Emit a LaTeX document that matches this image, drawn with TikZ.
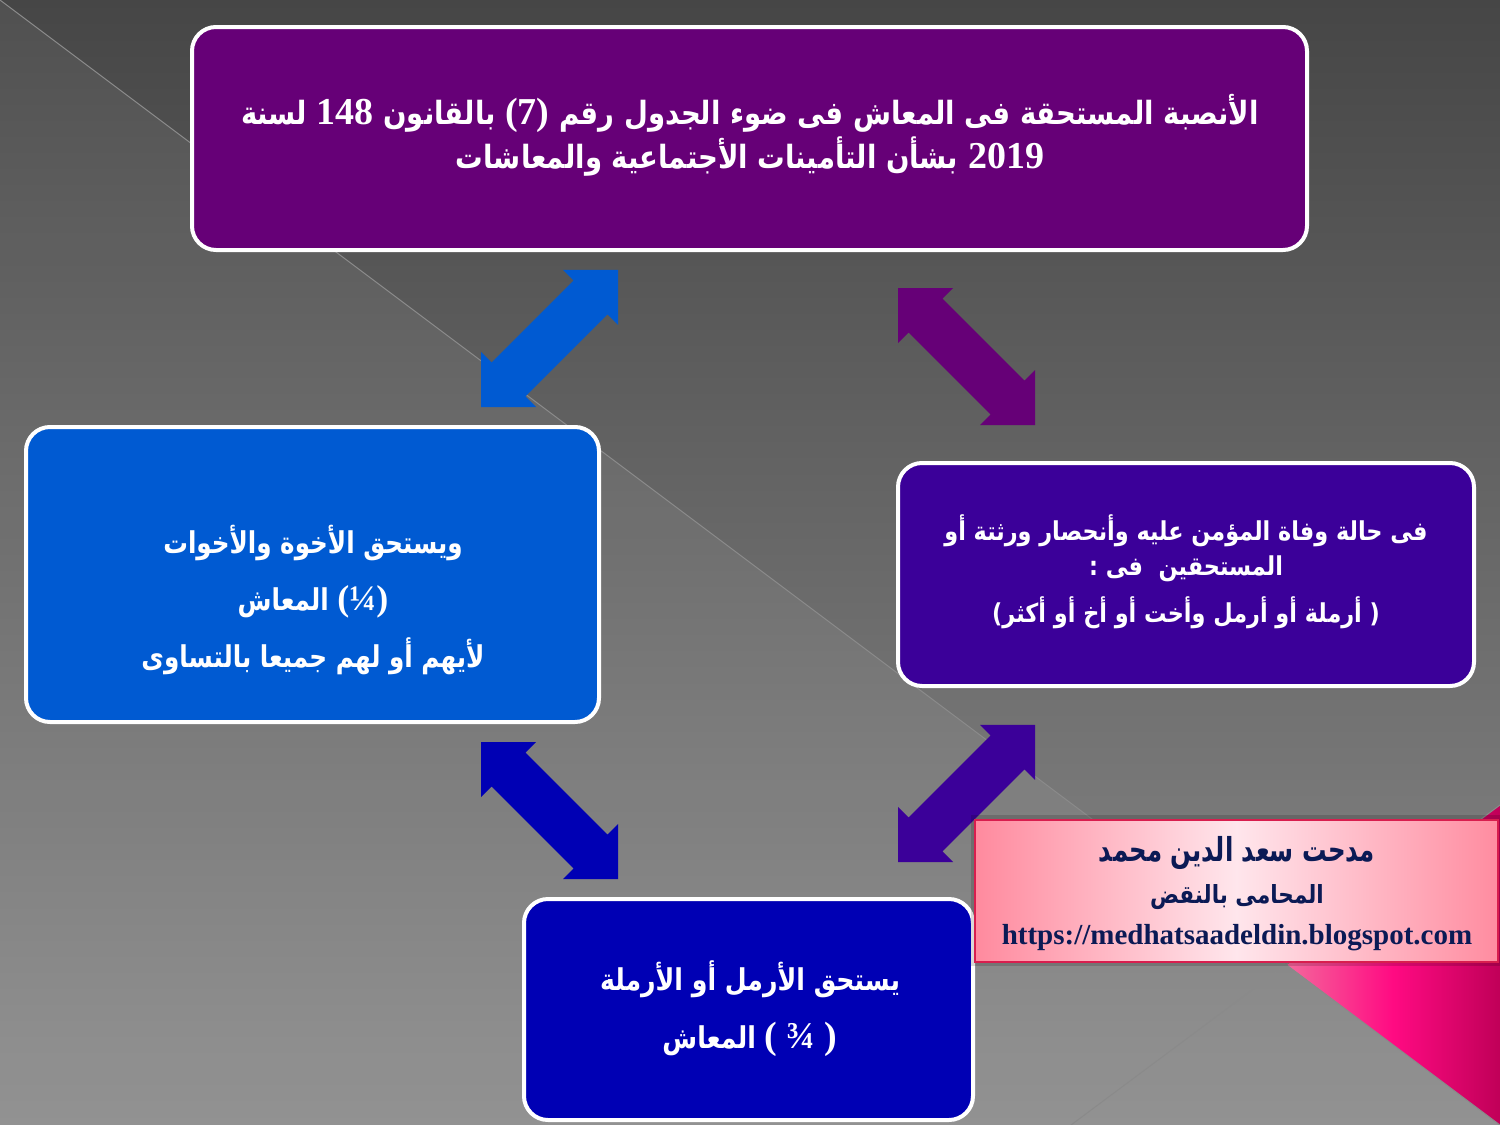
\documentclass[tikz,border=0pt]{standalone}
\usepackage{fontspec}
\setmainfont{Liberation Serif}
\newfontfamily\arabicfont[Script=Arabic]{DejaVu Sans}
\newfontfamily\numfont{Liberation Serif}
\TeXXeTstate=1
\definecolor{bgtop}{HTML}{464646}
\definecolor{bgbot}{HTML}{8C8C8C}
\definecolor{toppurple}{HTML}{660077}
\definecolor{leftblue}{HTML}{005AD2}
\definecolor{rightindigo}{HTML}{3B0099}
\definecolor{botblue}{HTML}{0000B4}
\definecolor{pinkL}{HTML}{F4689C}
\definecolor{pinkM}{HTML}{FF0A82}
\definecolor{pinkR}{HTML}{C00058}
\definecolor{signL}{HTML}{FF8A9E}
\definecolor{signM}{HTML}{FFE6EC}
\definecolor{signR}{HTML}{FF8CA0}
\definecolor{signborder}{HTML}{D81E4E}
\definecolor{navy}{HTML}{0B1A55}
\definecolor{bgline}{HTML}{8A8A8A}
\newcommand\bignum[2]{{\numfont\fontsize{#1}{#1}\selectfont #2}}
\tikzset{
  roundbox/.style={draw=white, line width=2pt, rounded corners=12pt, inner sep=0pt},
  boxtext/.style={text=white, align=center, inner sep=0pt},
  signtext/.style={text=navy, align=center, inner sep=0pt},
  bglinestyle/.style={draw=bgline, line width=0.5pt},
  dblarrow/.pic={\path[pic actions] (0,0) -- (39,-39) -- (39,-24) -- (155,-24) -- (155,-39)
      -- (194,0) -- (155,39) -- (155,24) -- (39,24) -- (39,39) -- cycle;}
}
\begin{document}
\begin{tikzpicture}[x=0.5pt,y=-0.5pt]
\useasboundingbox (0,0) rectangle (1500,1125);
% background
\shade[top color=bgtop, bottom color=bgbot] (0,0) rectangle (1500,1125);
\fill[white, opacity=0.06] (0,0) -- (1500,1125) -- (0,1125) -- cycle;
\shade[left color=pinkL, right color=pinkR, middle color=pinkM] (1287,965) -- (1500,805) -- (1500,1125) -- cycle;
\path[bglinestyle] (0,0) -- (1500,1125);
\path[bglinestyle] (1500,805) -- (1071,1125);
% boxes
\node[roundbox, fill=toppurple, minimum width=557.5pt, minimum height=111.5pt] (top) at (749.5,138.5) {};
\node[roundbox, fill=leftblue, minimum width=286.5pt, minimum height=147.5pt] (left) at (312.5,574.5) {};
\node[roundbox, fill=rightindigo, minimum width=288pt, minimum height=111.5pt] (right) at (1186,574.5) {};
\node[roundbox, fill=botblue, minimum width=224.5pt, minimum height=110.5pt] (bottom) at (748.5,1009.5) {};
% arrows
\coordinate (a1) at (481,407);
\coordinate (a2) at (898,288);
\coordinate (a3) at (481,742);
\coordinate (a4) at (898,862);
\pic[fill=leftblue, rotate=45] (arr1) at (a1) {dblarrow};
\pic[fill=toppurple, rotate=-45] (arr2) at (a2) {dblarrow};
\pic[fill=botblue, rotate=-45] (arr3) at (a3) {dblarrow};
\pic[fill=rightindigo, rotate=45] (arr4) at (a4) {dblarrow};
% texts
\node[boxtext, font=\arabicfont\addfontfeature{FakeStretch=0.86}\bfseries\fontsize{16}{22}\selectfont] (ttop) at (750,135)
 {\beginR الأنصبة المستحقة فى المعاش فى ضوء الجدول رقم \beginL\bignum{19}{(7)}\endL{} بالقانون \beginL\bignum{19}{148}\endL{} لسنة\endR\\
  \beginR\beginL\bignum{19}{2019}\endL{} بشأن التأمينات الأجتماعية والمعاشات\endR};
\node[boxtext, font=\arabicfont\addfontfeature{FakeStretch=0.82}\bfseries\fontsize{15}{28.5}\selectfont] (tleft) at (313,600)
 {\beginR ويستحق الأخوة والأخوات\endR\\
  \beginR\beginL\bignum{18}{(¼)}\endL{} المعاش\endR\\
  \beginR لأيهم أو لهم جميعا بالتساوى\endR};
\node[boxtext, font=\arabicfont\addfontfeature{FakeStretch=0.86}\bfseries\fontsize{13}{17.5}\selectfont] (tright) at (1186,572)
 {\beginR فى حالة وفاة المؤمن عليه وأنحصار ورثتة أو\endR\\
  \beginR المستحقين\ \ فى :\endR\\[6pt]
  \beginR( أرملة أو أرمل وأخت أو أخ أو أكثر)\endR};
\node[boxtext, font=\arabicfont\addfontfeature{FakeStretch=0.84}\bfseries\fontsize{15}{29}\selectfont] (tbottom) at (750,1009)
 {\beginR يستحق الأرمل أو الأرملة\endR\\
  \beginR\beginL\bignum{19}{( ¾ )}\endL{} المعاش\endR};
% signature
\fill[black, opacity=0.15] (971,815) rectangle (1500,966);
\node[draw=signborder, line width=1pt, left color=signL, right color=signR, middle color=signM,
      minimum width=261.5pt, minimum height=71pt, inner sep=0pt] (sign) at (1236.5,891) {};
\node[signtext, font=\arabicfont\addfontfeature{FakeStretch=0.74}\bfseries\fontsize{16.5}{20}\selectfont] (sname) at (1237,853) {\beginR مدحت سعد الدين محمد\endR};
\node[signtext, font=\arabicfont\addfontfeature{FakeStretch=0.86}\bfseries\fontsize{12.5}{16}\selectfont] (stitle) at (1237,897) {\beginR المحامى بالنقض\endR};
\node[signtext, font=\bfseries\fontsize{14.5}{17}\selectfont] (surl) at (1237,938) {https://medhatsaadeldin.blogspot.com};
\end{tikzpicture}
\end{document}
